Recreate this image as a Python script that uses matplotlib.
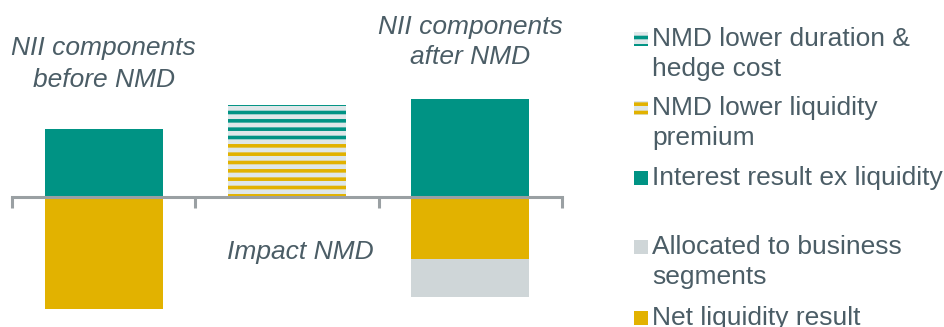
import matplotlib.pyplot as plt
from matplotlib.patches import Rectangle

plt.rcParams['font.family'] = ['Liberation Sans', 'DejaVu Sans']
plt.rcParams['hatch.linewidth'] = 2.6

# --- Data (arbitrary units) ---
positions = [0, 1, 2]
interest_ex_liq = [68, 0, 98]
nmd_liq_premium = [0, 57, 0]
nmd_duration_hedge = [0, 35, 0]
net_liq_result = [-112, 0, -62]
allocated_segments = [0, 0, -38]

TEAL = '#009384'
YELLOW = '#e2b200'
GREY = '#cfd6d8'
STRIPE_BG = '#dfe7e9'
TEXT = '#4b5d66'
AXIS = '#9aa0a3'

fig = plt.figure(figsize=(9.44, 3.27), dpi=100)
ax = fig.add_axes([12 / 944, 0, 550 / 944, 1])
ax.set_xlim(-0.5, 2.5)
ax.set_ylim(-130, 197)

w = 0.645
ax.bar(positions, interest_ex_liq, w, color=TEAL, zorder=2)
ax.bar(positions, net_liq_result, w, color=YELLOW, zorder=2)
ax.bar(positions, allocated_segments, w, bottom=net_liq_result, color=GREY, zorder=2)
ax.bar(positions, nmd_liq_premium, w, color=STRIPE_BG, edgecolor=YELLOW,
       hatch='--', linewidth=0, zorder=2)
ax.bar(positions, nmd_duration_hedge, w, bottom=nmd_liq_premium, color=STRIPE_BG,
       edgecolor=TEAL, hatch='--', linewidth=0, zorder=2)

# axis line with category separators
for s in ['top', 'right', 'left']:
    ax.spines[s].set_visible(False)
ax.spines['bottom'].set_position(('data', 0))
ax.spines['bottom'].set_color(AXIS)
ax.spines['bottom'].set_linewidth(2.2)
ax.spines['bottom'].set_zorder(3)
ax.set_yticks([])
ax.set_xticks([-0.5, 0.5, 1.5, 2.5])
ax.set_xticklabels([])
ax.tick_params(axis='x', direction='out', length=8, width=2.2, color=AXIS)
ax.patch.set_alpha(0)

# annotations
ax.text(0, 133, 'NII components\nbefore NMD', ha='center', va='center',
        fontsize=19, style='italic', color=TEXT, linespacing=1.4)
ax.text(2, 155, 'NII components\nafter NMD', ha='center', va='center',
        fontsize=19, style='italic', color=TEXT, linespacing=1.32)
ax.text(1.07, -55, 'Impact NMD', ha='center', va='center',
        fontsize=19, style='italic', color=TEXT)

# legend drawn manually
legend_items = [
    ('NMD lower duration &\nhedge cost', TEAL, True, 54),
    ('NMD lower liquidity\npremium', YELLOW, True, 123),
    ('Interest result ex liquidity', TEAL, False, 178),
    ('Allocated to business\nsegments', GREY, False, 262),
    ('Net liquidity result', YELLOW, False, 318),
]
for label, col, striped, ypix in legend_items:
    first_line_y = ypix - 15 if '\n' in label else ypix
    yf = 1 - first_line_y / 327
    sq = 14 / 944
    if striped:
        r = Rectangle((634 / 944, yf - 7 / 327), sq, 14 / 327, transform=fig.transFigure,
                      facecolor=STRIPE_BG, edgecolor=col, hatch='--', linewidth=0)
    else:
        r = Rectangle((634 / 944, yf - 7 / 327), sq, 14 / 327, transform=fig.transFigure,
                      facecolor=col, linewidth=0)
    fig.patches.append(r)
    fig.text(652 / 944, 1 - ypix / 327, label, ha='left', va='center',
             fontsize=19, color=TEXT, linespacing=1.35)

fig.savefig('out.png', dpi=100)
